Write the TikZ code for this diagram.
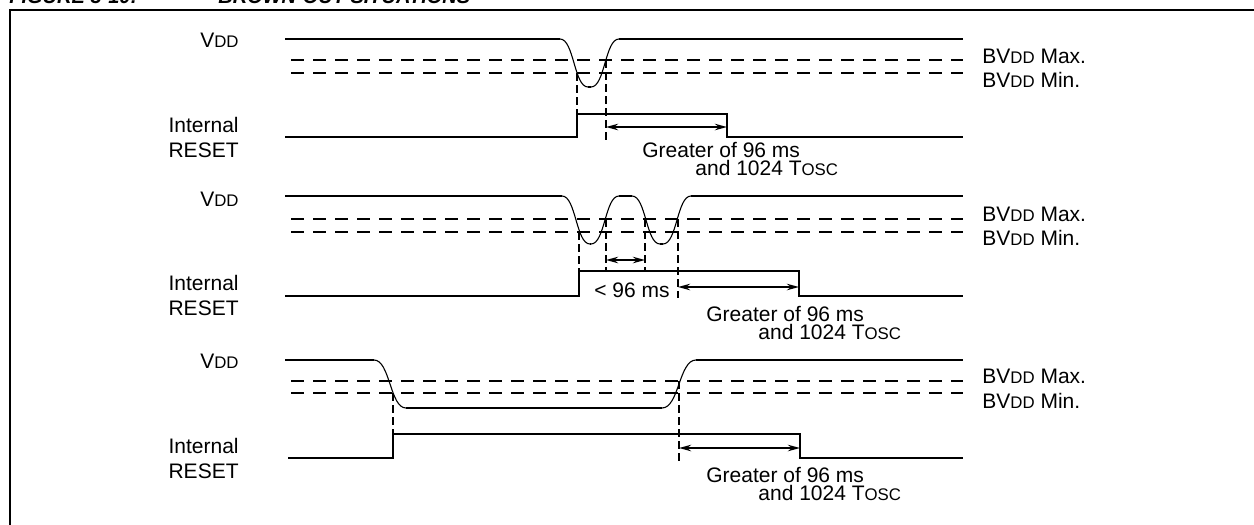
\documentclass[tikz,border=0pt]{standalone}
\usepackage{fontspec}
\setmainfont{Liberation Sans}
\usetikzlibrary{arrows.meta}

\newcommand{\smc}[1]{{\fontsize{8.4}{9}\selectfont #1}}
\newcommand{\vdd}{V\smc{DD}}
\newcommand{\tosc}{T\smc{OSC}}

\begin{document}
\begin{tikzpicture}[
  x=0.5pt, y=-0.5pt,
  font=\fontsize{10.5}{12}\selectfont,
  % ---- lines ---------------------------------------------------------------
  wave/.style={line width=1pt},
  slope/.style={line width=0.55pt},
  level/.style={line width=1pt, dash pattern=on 6.5pt off 4.5pt},
  guide/.style={line width=1pt, dash pattern=on 4pt off 2pt},
  span/.style={line width=1pt,
    {Stealth[length=6pt,width=3.2pt]}-{Stealth[length=6pt,width=3.2pt]}},
  % ---- texts ---------------------------------------------------------------
  sig/.style={anchor=base east, inner sep=0pt},
  lvl/.style={anchor=base west, inner sep=0pt},
  note/.style={anchor=base west, inner sep=0pt, text depth=0pt},
  caption/.style={anchor=base west, inner sep=0pt,
    font=\fontsize{10}{11}\selectfont\bfseries\itshape},
]
\useasboundingbox (0,0) rectangle (1254,525);

% ---- caption and frame ----------------------------------------------------
\node[caption] (fig) at (9,3) {FIGURE 3-10:};
\node[caption] (title) at (218,3) {BROWN-OUT SITUATIONS};
\draw[line width=1pt] (10,530) -- (10,10) -- (1260,10);

% ---- labels and BVDD levels, one row per situation ------------------------
\foreach \i/\yv/\yr/\ymax/\ymin/\ya/\yb in
    {1/47/132/60/73/63/87, 2/206/290/219/232/221/245, 3/368/453/381/393/383/408}
{
  \node[sig] (vdd\i) at (239,\yv) {\vdd};
  \node[sig] (int\i) at (239,\yr) {Internal};
  \node[sig] (rst\i) at (239,\yr+25) {RESET};
  \draw[level] (291,\ymax) -- (963,\ymax);
  \draw[level] (291,\ymin) -- (963,\ymin);
  \node[lvl] (bmax\i) at (982,\ya) {B\vdd{} Max.};
  \node[lvl] (bmin\i) at (982,\yb) {B\vdd{} Min.};
}

% ---- situation 1: one short dip -------------------------------------------
\draw[wave] (285,39) -- (560,39);
\draw[slope] (560,39) .. controls (574,39) and (574,87) .. (588,87);
\draw[wave] (588,87) -- (591,87);
\draw[slope] (591,87) .. controls (605,87) and (605,39) .. (619,39);
\draw[wave] (619,39) -- (963,39);

\draw[guide] (577,73) -- (577,114);
\draw[guide] (606,60) -- (606,140);

\draw[wave] (285,137) -- (577,137) -- (577,114) -- (727,114) -- (727,137) -- (963,137);
\draw[span] (606,127) -- (727,127);
\node[note] (gt1) at (642,157) {Greater of 96 ms};
\node[note] (os1) at (695,175) {and 1024 \tosc};

% ---- situation 2: two dips closer than 96 ms ------------------------------
\draw[wave] (285,196) -- (562,196);
\draw[slope] (562,196) .. controls (576,196) and (576,244) .. (590,244);
\draw[wave] (590,244) -- (591,244);
\draw[slope] (591,244) .. controls (605,244) and (605,196) .. (619,196);
\draw[wave] (619,196) -- (632,196);
\draw[slope] (632,196) .. controls (646,196) and (646,244) .. (660,244);
\draw[wave] (660,244) -- (663,244);
\draw[slope] (663,244) .. controls (677,244) and (677,196) .. (691,196);
\draw[wave] (691,196) -- (963,196);

\draw[guide] (579,232) -- (579,271);
\draw[guide] (606,219) -- (606,271);
\draw[guide] (645,219) -- (645,271);
\draw[guide] (678,219) -- (678,298);

\draw[wave] (285,296) -- (579,296) -- (579,271) -- (799,271) -- (799,296) -- (963,296);
\draw[span] (606,260) -- (645,260);
\node[note] (lt2) at (594,297) {< 96 ms};
\draw[span] (678,287) -- (799,287);
\node[note] (gt2) at (706,321) {Greater of 96 ms};
\node[note] (os2) at (758,339) {and 1024 \tosc};

% ---- situation 3: one long dip --------------------------------------------
\draw[wave] (285,360) -- (374,360);
\draw[slope] (374,360) .. controls (390,360) and (390,408) .. (406,408);
\draw[wave] (406,408) -- (662,408);
\draw[slope] (662,408) .. controls (679,408) and (679,360) .. (696,360);
\draw[wave] (696,360) -- (963,360);

\draw[guide] (393,393) -- (393,434);
\draw[guide] (679,381) -- (679,462);

\draw[wave] (288,458) -- (393,458) -- (393,434) -- (800,434) -- (800,458) -- (963,458);
\draw[span] (679,448) -- (800,448);
\node[note] (gt3) at (706,482) {Greater of 96 ms};
\node[note] (os3) at (758,500) {and 1024 \tosc};

\end{tikzpicture}
\end{document}
